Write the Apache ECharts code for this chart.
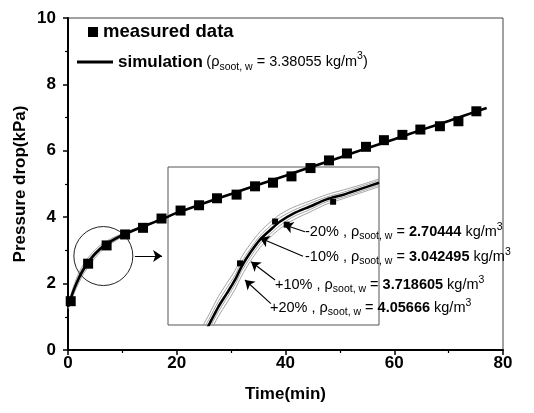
<!DOCTYPE html>
<html>
<head>
<meta charset="utf-8">
<script src="https://cdn.jsdelivr.net/npm/echarts@6/dist/echarts.min.js"></script>
<style>html,body{margin:0;padding:0;background:#fff}#c{width:534px;height:413px}</style>
</head>
<body>
<div id="c"></div>
<script>
// ---- data ----
const xTicks = [0, 20, 40, 60, 80];
const yTicks = [0, 2, 4, 6, 8, 10];
const timeMeasured = [0.5, 3.7, 7.1, 10.5, 13.8, 17.2, 20.7, 24.1, 27.4, 31.0, 34.4, 37.7, 41.1, 44.6, 48.0, 51.3, 54.8, 58.1, 61.5, 64.8, 68.4, 71.8, 75.1];
const pressureMeasured = [1.47, 2.6, 3.15, 3.48, 3.68, 3.96, 4.2, 4.36, 4.57, 4.68, 4.93, 5.04, 5.23, 5.48, 5.71, 5.92, 6.12, 6.32, 6.48, 6.64, 6.74, 6.89, 7.19];
const simTime = [0, 1, 2, 3, 4, 5, 6, 7, 8, 9, 10, 12, 14, 16, 18, 20, 25, 30, 35, 40, 45, 50, 55, 60, 65, 70, 75, 77];
const simPressure = [1.3, 1.78, 2.17, 2.47, 2.7, 2.9, 3.06, 3.18, 3.29, 3.38, 3.46, 3.6, 3.73, 3.86, 3.99, 4.13, 4.42, 4.7, 4.98, 5.25, 5.53, 5.8, 6.08, 6.35, 6.63, 6.9, 7.18, 7.29];
const sensTime = [0, 1, 2, 3, 4, 5, 6, 7, 8, 10, 12, 14, 16];
const sensMinus20 = [1.36, 1.9, 2.32, 2.62, 2.84, 3.02, 3.16, 3.27, 3.36, 3.51, 3.63, 3.75, 3.87];
const sensMinus10 = [1.33, 1.84, 2.25, 2.55, 2.77, 2.96, 3.11, 3.23, 3.33, 3.49, 3.62, 3.74, 3.87];
const sensPlus10 = [1.27, 1.72, 2.1, 2.4, 2.63, 2.84, 3.01, 3.14, 3.25, 3.43, 3.58, 3.72, 3.85];
const sensPlus20 = [1.24, 1.66, 2.03, 2.33, 2.57, 2.78, 2.96, 3.1, 3.21, 3.41, 3.57, 3.71, 3.85];
const zoomCircle = [6.5, 2.83];
const zoomArrow = [[12.3, 2.83], [17.3, 2.83]];
// inset (magnified view)
const insetTime = [3.3, 3.55, 3.91, 4.23, 4.54, 4.79, 5.11, 5.49, 5.87, 6.25, 6.75, 7.38, 8.01, 8.65, 9.28, 10.0];
const insetMain = [1.45, 1.6, 1.83, 2.0, 2.17, 2.34, 2.51, 2.68, 2.80, 2.91, 3.01, 3.10, 3.19, 3.25, 3.32, 3.40];
const insetM20 = [1.58, 1.73, 1.96, 2.13, 2.29, 2.46, 2.62, 2.78, 2.90, 3.00, 3.09, 3.17, 3.25, 3.31, 3.37, 3.45];
const insetM10 = [1.52, 1.67, 1.90, 2.07, 2.23, 2.40, 2.56, 2.73, 2.85, 2.96, 3.05, 3.14, 3.22, 3.28, 3.35, 3.43];
const insetP10 = [1.39, 1.54, 1.77, 1.94, 2.11, 2.28, 2.45, 2.63, 2.75, 2.86, 2.97, 3.06, 3.16, 3.22, 3.29, 3.37];
const insetP20 = [1.33, 1.48, 1.71, 1.88, 2.05, 2.22, 2.40, 2.58, 2.71, 2.82, 2.93, 3.03, 3.13, 3.20, 3.27, 3.35];
const insetMarkTime = [4.73, 6.06, 6.50, 8.26];
const insetMarkPressure = [2.38, 2.91, 2.87, 3.16];
const arrowLabels = ['-20%', '-10%', '+10%', '+20%'];
const arrowDensity = ['2.70444', '3.042495', '3.718605', '4.05666'];
const arrowTail = [[7.19, 2.78], [7.12, 2.47], [6.06, 2.17], [5.90, 1.87]];
const arrowTip = [[6.40, 2.87], [5.49, 2.70], [5.15, 2.40], [4.92, 2.17]];
const simDensity = '3.38055';

const zip = (a, b) => a.map((v, i) => [v, b[i]]);
const FONT = 'Liberation Sans, Arial, Helvetica, sans-serif';

const richBase = {
  n: {fontSize: 14.5, fontFamily: FONT, color: '#000', lineHeight: 20},
  b: {fontSize: 14.5, fontFamily: FONT, color: '#000', fontWeight: 'bold', lineHeight: 20},
  sub: {fontSize: 10.5, fontFamily: FONT, color: '#000', lineHeight: 11, verticalAlign: 'bottom'},
  sup: {fontSize: 10.5, fontFamily: FONT, color: '#000', lineHeight: 11, verticalAlign: 'top'}
};
const legRich = {
  n: {fontSize: 14.5, fontFamily: FONT, color: '#000', lineHeight: 22},
  b: {fontSize: 17, fontFamily: FONT, color: '#000', fontWeight: 'bold', lineHeight: 22},
  sub: {fontSize: 10.5, fontFamily: FONT, color: '#000', lineHeight: 12, verticalAlign: 'bottom'},
  sup: {fontSize: 10.5, fontFamily: FONT, color: '#000', lineHeight: 12, verticalAlign: 'top'}
};

const labelPos = [[305, 232], [305, 257], [275, 285], [270, 308]];

const chart = echarts.init(document.getElementById('c'), null, {renderer: 'canvas'});
const thin = (name, data, xi) => ({
  type: 'line', name, data, xAxisIndex: xi, yAxisIndex: xi, showSymbol: false, symbol: 'none',
  smooth: 0.3, lineStyle: {color: '#9a9a9a', width: 0.9}, z: 2, silent: true, animation: false
});

chart.setOption({
  animation: false,
  backgroundColor: '#fff',
  grid: [
    {left: 68, right: 31, top: 18, bottom: 63, show: true, borderColor: '#444', borderWidth: 1, containLabel: false},
    {left: 168, top: 167, width: 211, height: 158, show: true, borderColor: '#555', borderWidth: 1, z: 1}
  ],
  legend: [
    {data: ['measured data'], left: 88, top: 21, padding: 0, icon: 'rect', itemWidth: 10, itemHeight: 10, selectedMode: false,
     textStyle: {fontSize: 18.5, fontWeight: 'bold', fontFamily: FONT, color: '#000', lineHeight: 22}},
    {data: ['simulation'], left: 77, top: 51, padding: 0, icon: 'rect', itemWidth: 36, itemHeight: 3, selectedMode: false,
     formatter: () => '{b|simulation} {n|(ρ}{sub|soot, w}{n| = ' + simDensity + ' kg/m}{sup|3}{n|)}',
     textStyle: {rich: legRich}}
  ],
  xAxis: [
    {type: 'value', gridIndex: 0, min: xTicks[0], max: xTicks[xTicks.length - 1], interval: 20,
     name: 'Time(min)', nameLocation: 'middle', nameGap: 36, nameMoveOverlap: false,
     nameTextStyle: {fontSize: 17, fontWeight: 'bold', fontFamily: FONT, color: '#000'},
     axisLine: {lineStyle: {color: '#000', width: 2}},
     axisTick: {length: 5, lineStyle: {color: '#000', width: 1.5}},
     minorTick: {show: true, splitNumber: 2, length: 3, lineStyle: {color: '#000', width: 1.2}},
     axisLabel: {fontSize: 17, fontWeight: 'bold', fontFamily: FONT, color: '#000', margin: 5},
     splitLine: {show: false}},
    {type: 'value', gridIndex: 1, min: 2, max: 10, show: false}
  ],
  yAxis: [
    {type: 'value', gridIndex: 0, min: yTicks[0], max: yTicks[yTicks.length - 1], interval: 2,
     name: 'Pressure drop(kPa)', nameLocation: 'middle', nameGap: 39, nameRotate: 90, nameMoveOverlap: false,
     nameTextStyle: {fontSize: 17, fontWeight: 'bold', fontFamily: FONT, color: '#000'},
     axisLine: {show: true, lineStyle: {color: '#000', width: 2}},
     axisTick: {show: true, length: 5, lineStyle: {color: '#000', width: 1.5}},
     minorTick: {show: true, splitNumber: 2, length: 3, lineStyle: {color: '#000', width: 1.2}},
     axisLabel: {fontSize: 17, fontWeight: 'bold', fontFamily: FONT, color: '#000', margin: 12},
     splitLine: {show: false}},
    {type: 'value', gridIndex: 1, min: 1.6, max: 3.6, show: false}
  ],
  graphic: arrowLabels.map((lab, i) => ({
    type: 'text', x: labelPos[i][0], y: labelPos[i][1], z: 100,
    style: {
      text: '{n|' + lab + ' , ρ}{sub|soot, w}{n| = }{b|' + arrowDensity[i] + '}{n| kg/m}{sup|3}',
      rich: richBase, verticalAlign: 'middle', align: 'left'
    }
  })),
  series: [
    thin('m20', zip(sensTime, sensMinus20), 0),
    thin('m10', zip(sensTime, sensMinus10), 0),
    thin('p10', zip(sensTime, sensPlus10), 0),
    thin('p20', zip(sensTime, sensPlus20), 0),
    {type: 'line', name: 'simulation', data: zip(simTime, simPressure), xAxisIndex: 0, yAxisIndex: 0,
     showSymbol: false, symbol: 'none', smooth: 0.3, lineStyle: {color: '#000', width: 2.6}, itemStyle: {color: '#000'}, z: 4},
    {type: 'scatter', name: 'measured data', data: zip(timeMeasured, pressureMeasured), xAxisIndex: 0, yAxisIndex: 0,
     symbol: 'rect', symbolSize: 10, itemStyle: {color: '#000', opacity: 1}, z: 5},
    {type: 'scatter', name: 'circle', data: [zoomCircle], xAxisIndex: 0, yAxisIndex: 0, symbol: 'circle', symbolSize: 59,
     itemStyle: {color: 'rgba(0,0,0,0)', borderColor: '#222', borderWidth: 1, opacity: 1}, z: 3, silent: true},
    {type: 'lines', coordinateSystem: 'cartesian2d', xAxisIndex: 0, yAxisIndex: 0,
     data: [{coords: zoomArrow}], symbol: ['none', 'arrow'], symbolSize: 9,
     lineStyle: {color: '#000', width: 1.2, opacity: 1}, z: 6, silent: true},
    // inset
    thin('im20', zip(insetTime, insetM20), 1),
    thin('im10', zip(insetTime, insetM10), 1),
    thin('ip10', zip(insetTime, insetP10), 1),
    thin('ip20', zip(insetTime, insetP20), 1),
    {type: 'line', name: 'insetMain', data: zip(insetTime, insetMain), xAxisIndex: 1, yAxisIndex: 1,
     showSymbol: false, symbol: 'none', smooth: 0.3, lineStyle: {color: '#000', width: 2.6}, z: 4, silent: true},
    {type: 'scatter', name: 'insetMarks', data: zip(insetMarkTime, insetMarkPressure), xAxisIndex: 1, yAxisIndex: 1,
     symbol: 'rect', symbolSize: 6, itemStyle: {color: '#000', opacity: 1}, z: 5, silent: true},
    {type: 'lines', coordinateSystem: 'cartesian2d', xAxisIndex: 1, yAxisIndex: 1,
     data: arrowTail.map((t, i) => ({coords: [t, arrowTip[i]]})), symbol: ['none', 'arrow'], symbolSize: 9,
     lineStyle: {color: '#000', width: 1.1, opacity: 1}, z: 6, silent: true}
  ]
});
</script>
</body>
</html>
